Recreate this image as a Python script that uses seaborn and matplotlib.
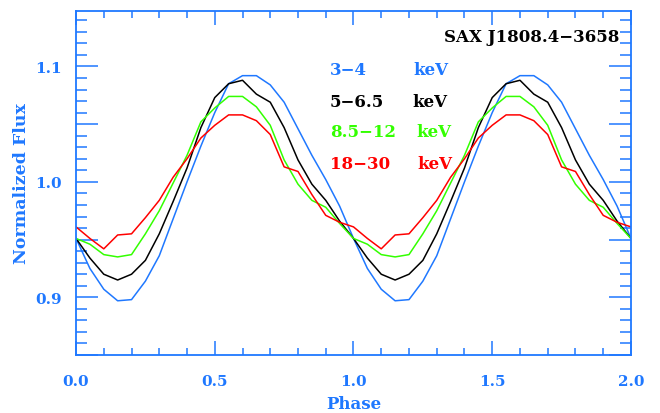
import numpy as np
import pandas as pd
import matplotlib
matplotlib.use('Agg')
import matplotlib.pyplot as plt
from matplotlib.ticker import MultipleLocator, FuncFormatter
import seaborn as sns

# 한 주기(20 bin) 프로파일, 그림에서 읽은 값
bin_phase = [0.00, 0.05, 0.10, 0.15, 0.20, 0.25, 0.30, 0.35, 0.40, 0.45,
             0.50, 0.55, 0.60, 0.65, 0.70, 0.75, 0.80, 0.85, 0.90, 0.95]
flux_3_4 = [0.951, 0.925, 0.907, 0.897, 0.898, 0.914, 0.936, 0.968, 1.000, 1.031,
            1.060, 1.085, 1.092, 1.092, 1.084, 1.069, 1.046, 1.023, 1.002, 0.979]
flux_5_65 = [0.951, 0.934, 0.920, 0.915, 0.920, 0.932, 0.955, 0.983, 1.012, 1.047,
             1.073, 1.085, 1.088, 1.076, 1.069, 1.047, 1.019, 0.998, 0.984, 0.966]
flux_85_12 = [0.951, 0.946, 0.937, 0.935, 0.937, 0.955, 0.975, 0.999, 1.023, 1.052,
              1.064, 1.074, 1.074, 1.065, 1.049, 1.019, 0.998, 0.984, 0.978, 0.964]
flux_18_30 = [0.961, 0.951, 0.942, 0.954, 0.955, 0.969, 0.984, 1.004, 1.020, 1.038,
              1.049, 1.058, 1.058, 1.053, 1.041, 1.013, 1.009, 0.989, 0.971, 0.965]

bands = ['3\u22124', '5\u22126.5', '8.5\u221212', '18\u221230']
band_flux = [flux_3_4, flux_5_65, flux_85_12, flux_18_30]
band_colors = ['#1f78ff', '#000000', '#33ff00', '#ff0000']
kev_x = [1.215, 1.212, 1.225, 1.23]
label_y = [1.097, 1.070, 1.044, 1.016]

axis_blue = '#1f78ff'

# 두 주기로 반복 (0~2), 마지막 점은 첫 bin과 같음
rows = []
for band, flux in zip(bands, band_flux):
    for cyc in range(2):
        for p, f in zip(bin_phase, flux):
            rows.append({'phase': p + cyc, 'flux': f, 'band': band})
    rows.append({'phase': 2.0, 'flux': flux[0], 'band': band})
df = pd.DataFrame(rows)

sns.set_style('ticks')
plt.rcParams['font.family'] = ['DejaVu Serif']

fig = plt.figure(figsize=(6.6, 4.14), dpi=100)
ax = fig.add_axes([0.1152, 0.140, 0.8408, 0.831])

sns.lineplot(data=df, x='phase', y='flux', hue='band', hue_order=bands,
             palette=band_colors, linewidth=1.1, legend=False, ax=ax)

ax.set_xlim(0, 2)
ax.set_ylim(0.85, 1.148)

ax.xaxis.set_major_locator(MultipleLocator(0.5))
ax.xaxis.set_minor_locator(MultipleLocator(0.1))
ax.yaxis.set_major_locator(MultipleLocator(0.05))
ax.yaxis.set_minor_locator(MultipleLocator(0.01))
ax.yaxis.set_major_formatter(FuncFormatter(
    lambda v, pos: f'{v:.1f}' if abs(v * 10 - round(v * 10)) < 1e-6 else ''))
ax.xaxis.set_major_formatter(FuncFormatter(lambda v, pos: f'{v:.1f}'))

ax.tick_params(axis='both', which='both', direction='in', top=True, right=True,
               colors=axis_blue, width=1.1, labelsize=11)
ax.tick_params(axis='x', which='major', length=10, pad=14)
ax.tick_params(axis='x', which='minor', length=5)
ax.tick_params(axis='y', which='major', length=16, pad=10)
ax.tick_params(axis='y', which='minor', length=8)
for lab in ax.get_xticklabels() + ax.get_yticklabels():
    lab.set_fontweight('bold')

for sp in ax.spines.values():
    sp.set_color(axis_blue)
    sp.set_linewidth(1.3)

ax.set_xlabel('Phase', color=axis_blue, fontsize=12, fontweight='bold', labelpad=5)
ax.set_ylabel('Normalized Flux', color=axis_blue, fontsize=12.5, fontweight='bold', labelpad=4)

# 에너지 밴드 라벨
for band, col, kx, ly in zip(bands, band_colors, kev_x, label_y):
    ax.text(0.915, ly, band, color=col, fontsize=12, fontweight='bold', va='center')
    ax.text(kx, ly, 'keV', color=col, fontsize=12, fontweight='bold', va='center')

ax.text(1.96, 1.126, 'SAX J1808.4\u22123658', color='black', fontsize=12,
        fontweight='bold', ha='right', va='center')

fig.savefig('out.png', dpi=100)
